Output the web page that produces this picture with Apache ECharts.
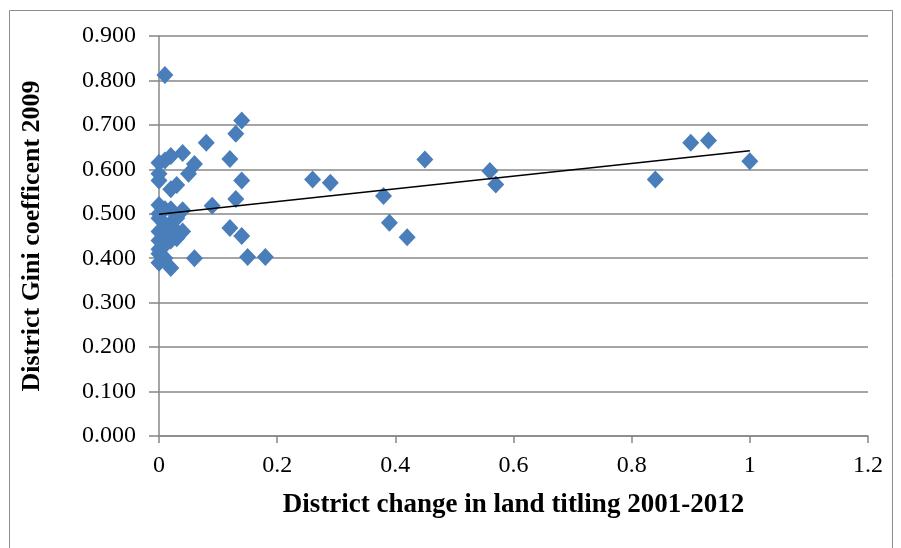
<!DOCTYPE html>
<html><head><meta charset="utf-8">
<script src="https://cdn.jsdelivr.net/npm/echarts@6/dist/echarts.min.js"></script>
<style>html,body{margin:0;padding:0;background:#fff}#c{width:901px;height:548px}</style>
</head><body><div id="c"></div>
<script>
const xVals = [0.01,0.14,0.13,0.08,0.04,0.02,0.12,0.00,0.01,0.06,0.05,0.00,0.00,0.14,0.03,0.02,0.13,0.09,
  0.00,0.01,0.00,0.00,0.02,0.04,0.03,0.02,0.12,0.14,0.04,0.03,0.02,0.00,0.00,0.01,0.00,0.06,0.15,0.18,
  0.00,0.01,0.02,0.26,0.29,0.38,0.39,0.42,0.45,0.56,0.57,0.84,0.90,0.93,1.00,0.01,0.00,0.02,0.03];
const yVals = [0.812,0.710,0.680,0.660,0.637,0.630,0.623,0.615,0.620,0.612,0.590,0.590,0.575,0.575,0.565,0.555,0.533,0.518,
  0.520,0.510,0.500,0.490,0.510,0.508,0.490,0.480,0.468,0.450,0.460,0.445,0.440,0.460,0.440,0.430,0.420,0.400,0.403,0.403,
  0.390,0.400,0.378,0.577,0.570,0.540,0.480,0.447,0.622,0.596,0.566,0.577,0.660,0.665,0.618,0.470,0.410,0.450,0.460];
const trendX = [0, 1];
const trendY = [0.499, 0.642];
const xTicks = [0, 0.2, 0.4, 0.6, 0.8, 1, 1.2];
const yTicks = [0, 0.1, 0.2, 0.3, 0.4, 0.5, 0.6, 0.7, 0.8, 0.9];

const pts = xVals.map((x, i) => [x, yVals[i]]);
const trend = trendX.map((x, i) => [x, trendY[i]]);
const serif = '"Liberation Serif", "DejaVu Serif", serif';
const grey = '#878787';

const chart = echarts.init(document.getElementById('c'), null, {renderer: 'canvas'});
chart.setOption({
  animation: false,
  graphic: [{type: 'rect', shape: {x: 9.5, y: 10.5, width: 883, height: 545}, style: {fill: 'none', stroke: '#8c8c8c', lineWidth: 1}, z: -1}],
  grid: {left: 159, right: 33, top: 36, bottom: 112},
  xAxis: {
    type: 'value', min: xTicks[0], max: xTicks[xTicks.length - 1], interval: 0.2,
    name: 'District change in land titling 2001-2012', nameLocation: 'middle', nameGap: 56,
    nameTextStyle: {fontFamily: serif, fontWeight: 'bold', fontSize: 27, color: '#000'},
    axisLine: {show: true, onZero: false, lineStyle: {color: grey, width: 1.5}},
    axisTick: {show: true, length: 7, lineStyle: {color: grey, width: 1.5}},
    splitLine: {show: false},
    axisLabel: {fontFamily: serif, fontSize: 24, color: '#000', margin: 18,
      formatter: v => { const t = xTicks.find(k => Math.abs(k - v) < 1e-9); return t === undefined ? '' : String(t); }}
  },
  yAxis: {
    type: 'value', min: yTicks[0], max: yTicks[yTicks.length - 1], interval: 0.1,
    name: 'District Gini coefficent 2009', nameLocation: 'middle', nameGap: 114, nameRotate: 90,
    nameTextStyle: {fontFamily: serif, fontWeight: 'bold', fontSize: 26, color: '#000'},
    axisLine: {show: true, lineStyle: {color: grey, width: 1.5}},
    axisTick: {show: true, length: 10, lineStyle: {color: grey, width: 1.5}},
    splitLine: {show: true, lineStyle: {color: grey, width: 1.5}},
    axisLabel: {fontFamily: serif, fontSize: 24, color: '#000', margin: 23, formatter: v => v.toFixed(3)}
  },
  series: [
    {type: 'scatter', data: pts, symbol: 'diamond', symbolSize: [17, 18],
     itemStyle: {color: '#4a7ebb', opacity: 1}, z: 2},
    {type: 'line', data: trend, symbol: 'none', lineStyle: {color: '#000', width: 1.5}, z: 3}
  ]
});
</script></body></html>
